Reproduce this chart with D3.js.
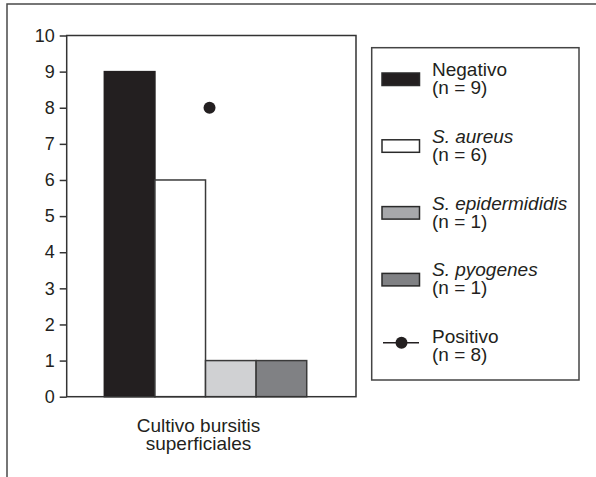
<!DOCTYPE html>
<html><head><meta charset="utf-8">
<script src="https://cdn.jsdelivr.net/npm/d3@7"></script>
<style>
html,body{margin:0;padding:0;background:#fff;}
svg{display:block;font-family:"Liberation Sans",Arial,Helvetica,sans-serif;}
</style></head>
<body>
<svg id="c" width="596" height="477"></svg>
<script>
// ---- data ----
const categories = ["Cultivo bursitis superficiales"];
const categoryLines = ["Cultivo bursitis", "superficiales"];
const seriesNames = ["Negativo", "S. aureus", "S. epidermididis", "S. pyogenes"];
const seriesValues = [9, 6, 1, 1];
const seriesCounts = [9, 6, 1, 1];
const seriesItalic = [false, true, true, true];
const barColors = ["#231f20", "#ffffff", "#d0d1d3", "#808184"];
const legendColors = ["#231f20", "#ffffff", "#a7a8ab", "#808184"];
const pointName = "Positivo";
const pointValue = [8];
const pointCount = 8;
const yTicks = [0,1,2,3,4,5,6,7,8,9,10];

// ---- layout ----
const svg = d3.select("#c");
const m = {left: 66.7, top: 35.5, right: 356, bottom: 396.7};
const W = m.right - m.left, H = m.bottom - m.top;

// outer frame (only left and top visible)
svg.append("rect").attr("x",7).attr("y",4).attr("width",640).attr("height",520)
  .attr("fill","none").attr("stroke","#4a4a4a").attr("stroke-width",1.5);

const g = svg.append("g").attr("transform",`translate(${m.left},${m.top})`);

const y = d3.scaleLinear().domain([0,10]).range([H,0]);
const x0 = d3.scaleBand().domain(categories).range([0,W]).paddingInner(0).paddingOuter(0.2147).align(0.433);
const x1 = d3.scaleBand().domain(seriesNames).range([0,x0.bandwidth()]).padding(0);

// bars
const cg = g.selectAll("g.cat").data(categories).join("g").attr("class","cat")
  .attr("transform",d=>`translate(${x0(d)},0)`);
cg.selectAll("rect").data(seriesNames.map((s,i)=>({s,v:seriesValues[i],c:barColors[i]})))
  .join("rect")
  .attr("x",d=>x1(d.s)).attr("width",x1.bandwidth())
  .attr("y",d=>y(d.v)).attr("height",d=>y(0)-y(d.v))
  .attr("fill",d=>d.c).attr("stroke",(d,i)=>i===0?"#231f20":"#3a3a3a").attr("stroke-width",1.5);

// point
cg.selectAll("circle").data(pointValue).join("circle")
  .attr("cx",x0.bandwidth()/2+4).attr("cy",d=>y(d)).attr("r",6).attr("fill","#231f20");

// plot frame
g.append("rect").attr("x",0).attr("y",0).attr("width",W).attr("height",H)
  .attr("fill","none").attr("stroke","#333").attr("stroke-width",1.5);

// y axis
const ya = g.append("g").call(d3.axisLeft(y).tickValues(yTicks).tickSize(7).tickPadding(5).tickFormat(d3.format("d")));
ya.select(".domain").remove();
ya.selectAll(".tick line").attr("stroke","#333").attr("stroke-width",1.5);
ya.selectAll(".tick text").attr("font-size",18).attr("fill","#231f20")
  .attr("font-family","'Liberation Sans',Arial,sans-serif");

// x label
const lx = x0(categories[0])+x0.bandwidth()/2-7;
const xl = g.append("g").attr("font-size",19).attr("fill","#231f20").attr("text-anchor","middle");
xl.selectAll("text").data(categoryLines).join("text")
  .attr("x",lx).attr("y",(d,i)=>H+35+i*18).text(d=>d);

// legend
svg.append("rect").attr("x",371.7).attr("y",47.7).attr("width",207.3).attr("height",332.3)
  .attr("fill","#fff").attr("stroke","#444").attr("stroke-width",1.5);
const legItems = seriesNames.map((s,i)=>({name:s,n:seriesCounts[i],italic:seriesItalic[i],color:legendColors[i],type:"bar"}))
  .concat([{name:pointName,n:pointCount,italic:false,type:"point"}]);
const lg = svg.selectAll("g.leg").data(legItems).join("g").attr("class","leg")
  .attr("transform",(d,i)=>`translate(0,${76+i*66.8})`);
lg.filter(d=>d.type==="bar").append("rect")
  .attr("x",382).attr("y",-3).attr("width",37.5).attr("height",12.5)
  .attr("fill",d=>d.color).attr("stroke","#2a2a2a").attr("stroke-width",1.5);
const lp = lg.filter(d=>d.type==="point");
lp.append("line").attr("x1",383).attr("x2",419).attr("y1",-0.5).attr("y2",-0.5).attr("stroke","#231f20").attr("stroke-width",1.5);
lp.append("circle").attr("cx",401.5).attr("cy",-0.5).attr("r",6).attr("fill","#231f20");
lg.append("text").attr("x",432).attr("y",0).attr("font-size",19).attr("fill","#231f20")
  .attr("font-style",d=>d.italic?"italic":"normal").text(d=>d.name);
lg.append("text").attr("x",432).attr("y",18).attr("font-size",19).attr("fill","#231f20")
  .text(d=>`(n = ${d.n})`);
</script>
</body></html>
